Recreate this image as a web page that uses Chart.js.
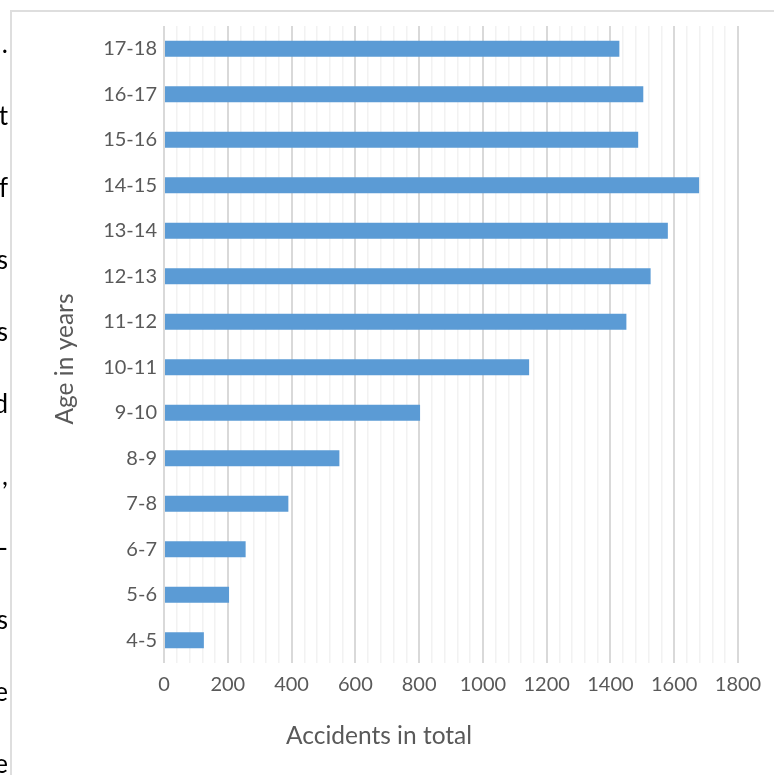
<!DOCTYPE html>
<html>
<head>
<meta charset="utf-8">
<script src="https://cdn.jsdelivr.net/npm/chart.js@4.4.1/dist/chart.umd.min.js"></script>
<style>
  html, body { margin: 0; padding: 0; background: #ffffff; overflow: hidden; }
  #wrap { position: relative; width: 774px; height: 775px; }
  #frame { position: absolute; left: 10px; top: 10px; width: 900px; height: 900px;
           border-left: 2px solid #dedede; border-top: 2px solid #dedede; box-sizing: border-box; }
  #chart { position: absolute; left: 0; top: 0; }
  .frag { position: absolute; right: 766px; font-family: Lato, "Liberation Sans", sans-serif;
          font-size: 26px; color: #000; line-height: 1; white-space: nowrap; }
</style>
</head>
<body>
<div id="wrap">
  <div id="frame"></div>
  <canvas id="chart" width="774" height="775"></canvas>
</div>
<script>
// Age groups, youngest first
const ageGroups = ["4-5", "5-6", "6-7", "7-8", "8-9", "9-10", "10-11", "11-12",
                   "12-13", "13-14", "14-15", "15-16", "16-17", "17-18"];
// Total number of accidents per age group
const accidents = [125, 204, 256, 390, 550, 803, 1145, 1450,
                   1526, 1580, 1678, 1487, 1503, 1428];
// Value axis range and labelled ticks
const axisMax = 1800;
const labelStep = 200;
const minorStep = 40;
const xTitle = "Accidents in total";
const yTitle = "Age in years";
// Line endings of the neighbouring text column
const sideText = [".", "t", "f", "s", "s", "d", ",", "-", "s", "e", "e"];

// neighbouring text column, one glyph per line
const wrap = document.getElementById("wrap");
sideText.forEach((ch, i) => {
  const d = document.createElement("div");
  d.className = "frag";
  d.textContent = ch;
  d.style.top = (30 + i * 72) + "px";
  wrap.appendChild(d);
});

const FONT = "Lato, 'Liberation Sans', sans-serif";
const GREY = "#595959";

// Axis titles placed relative to the whole chart frame
const axisTitles = {
  id: "axisTitles",
  afterDraw(chart) {
    const ctx = chart.ctx;
    ctx.save();
    ctx.fillStyle = GREY;
    ctx.font = "24.5px " + FONT;
    ctx.textAlign = "center";
    ctx.textBaseline = "middle";
    ctx.fillText(xTitle, 379, 736);
    ctx.translate(65, 359);
    ctx.rotate(-Math.PI / 2);
    ctx.fillText(yTitle, 0, 0);
    ctx.restore();
  }
};

new Chart(document.getElementById("chart"), {
  type: "bar",
  data: {
    labels: ageGroups,
    datasets: [{
      data: accidents,
      backgroundColor: "#5b9bd5",
      borderWidth: 0,
      categoryPercentage: 1.0,
      barPercentage: 0.35
    }]
  },
  options: {
    indexAxis: "y",
    responsive: false,
    animation: false,
    devicePixelRatio: 1,
    layout: { padding: { left: 0, right: 36, top: 26, bottom: 0 } },
    plugins: { legend: { display: false }, tooltip: { enabled: false } },
    scales: {
      x: {
        min: 0,
        max: axisMax,
        afterFit(scale) { scale.height = 112; },
        ticks: {
          stepSize: minorStep,
          autoSkip: false,
          maxRotation: 0,
          padding: 10,
          color: GREY,
          font: { family: FONT, size: 20 },
          callback: (v) => (v % labelStep === 0 ? String(v) : "")
        },
        border: { display: false },
        grid: {
          drawTicks: false,
          color: (c) => (c.tick && c.tick.value % labelStep === 0 ? "#d9d9d9" : "#f2f2f2"),
          lineWidth: (c) => (c.tick && c.tick.value % labelStep === 0 ? 2 : 1.5)
        }
      },
      y: {
        reverse: true,
        afterFit(scale) { scale.width = 164; },
        ticks: {
          padding: 7,
          color: GREY,
          font: { family: FONT, size: 20 }
        },
        border: { display: false },
        grid: { display: false, drawTicks: false }
      }
    }
  },
  plugins: [axisTitles]
});
</script>
</body>
</html>
